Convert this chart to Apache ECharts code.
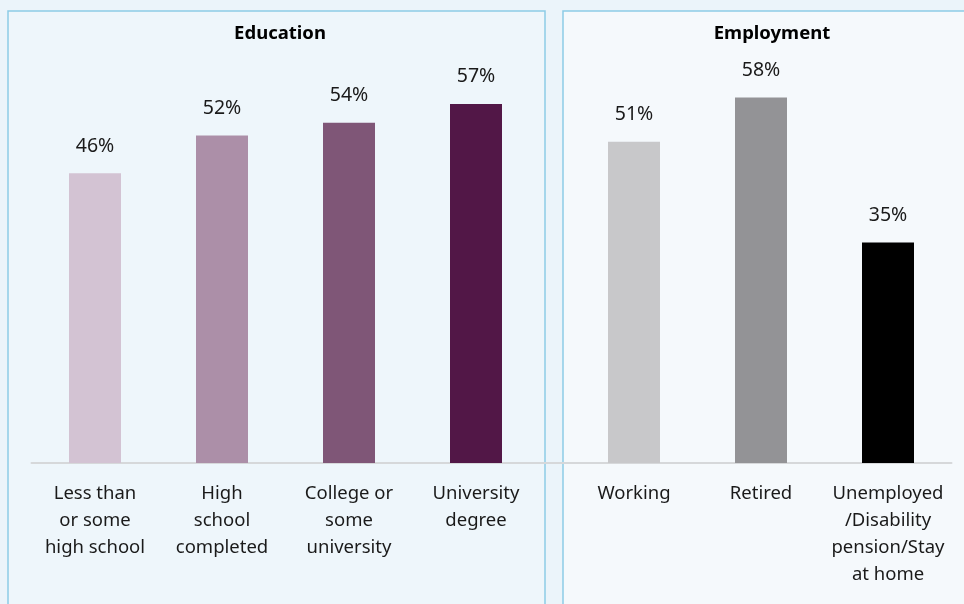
<!DOCTYPE html>
<html>
<head>
<meta charset="utf-8">
<script src="https://cdn.jsdelivr.net/npm/echarts@6/dist/echarts.min.js"></script>
<style>
html,body{margin:0;padding:0;background:#EBF4FA;}
#c{width:964px;height:604px;}
</style>
</head>
<body>
<div id="c"></div>
<script>
var eduCategories = ['Less than\nor some\nhigh school', 'High\nschool\ncompleted', 'College or\nsome\nuniversity', 'University\ndegree'];
var eduValues = [46, 52, 54, 57];
var eduColors = ['#D3C3D3', '#AC8FA8', '#7F5677', '#521747'];
var empCategories = ['Working', 'Retired', 'Unemployed\n/Disability\npension/Stay\nat home'];
var empValues = [51, 58, 35];
var empColors = ['#C8C8CA', '#939396', '#000000'];
var panelTitles = ['Education', 'Employment'];

var FONT = '"Noto Sans", "Open Sans", sans-serif';
var chart = echarts.init(document.getElementById('c'));

function mkData(vals, cols) {
  return vals.map(function (v, i) { return { value: v, itemStyle: { color: cols[i] } }; });
}
function xAxis(idx, cats) {
  return {
    type: 'category', gridIndex: idx, data: cats,
    axisLine: { show: true, lineStyle: { color: '#D6D8DA', width: 2 } },
    axisTick: { show: false },
    axisLabel: { color: '#1a1a1a', fontFamily: FONT, fontSize: 18.5, lineHeight: 27, margin: 17, interval: 0 }
  };
}
function yAxis(idx) {
  return { type: 'value', gridIndex: idx, min: 0, max: 70, show: false, splitLine: { show: false } };
}
function series(idx, vals, cols) {
  return {
    type: 'bar', xAxisIndex: idx, yAxisIndex: idx, barWidth: 52,
    data: mkData(vals, cols),
    label: { show: true, position: 'top', distance: 17, formatter: '{c}%', color: '#1a1a1a', fontFamily: FONT, fontSize: 19.5 }
  };
}

chart.setOption({
  backgroundColor: '#EBF4FA',
  animation: false,
  graphic: [
    { type: 'rect', z: -10, shape: { x: 8, y: 11, width: 537, height: 620 }, style: { fill: '#EEF6FB', stroke: '#8DCBE6', lineWidth: 1.5 } },
    { type: 'rect', z: -10, shape: { x: 563, y: 11, width: 430, height: 620 }, style: { fill: '#F5F9FC', stroke: '#8DCBE6', lineWidth: 1.5 } },
    { type: 'line', z: 5, shape: { x1: 538, y1: 463, x2: 572, y2: 463 }, style: { stroke: '#D6D8DA', lineWidth: 2 } }
  ],
  title: [
    { text: panelTitles[0], left: 275, top: 19, textAlign: 'center', textStyle: { fontFamily: FONT, fontSize: 18.5, fontWeight: 'bold', color: '#000' } },
    { text: panelTitles[1], left: 767, top: 19, textAlign: 'center', textStyle: { fontFamily: FONT, fontSize: 18.5, fontWeight: 'bold', color: '#000' } }
  ],
  grid: [
    { left: 31.5, width: 508, top: 22, bottom: 141 },
    { left: 570.5, width: 381, top: 22, bottom: 141 }
  ],
  xAxis: [xAxis(0, eduCategories), xAxis(1, empCategories)],
  yAxis: [yAxis(0), yAxis(1)],
  series: [series(0, eduValues, eduColors), series(1, empValues, empColors)]
});
</script>
</body>
</html>
